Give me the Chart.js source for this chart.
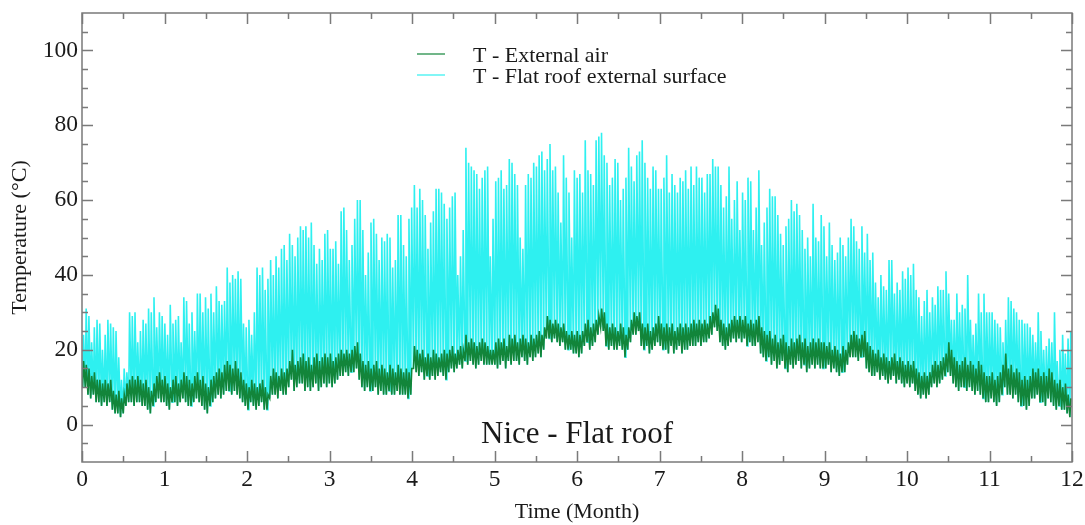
<!DOCTYPE html>
<html>
<head>
<meta charset="utf-8">
<title>Nice - Flat roof</title>
<script src="https://cdn.jsdelivr.net/npm/chart.js@4.4.1/dist/chart.umd.min.js"></script>
<style>
  html, body { margin: 0; padding: 0; background: #fff; }
  #roofChart { display: block; }
</style>
</head>
<body>
<canvas id="roofChart" width="1085" height="525"></canvas>
<script>
// Daily values over one year, one row per month (Jan..Dec)
const surfaceMax = [
    24, 31, 29, 22, 26, 28, 27, 20, 24, 28, 27, 26, 25, 18, 12, 15, 14, 30, 29, 30, 22, 25, 28, 27, 31, 30, 34, 26, 30, 29, 27,
    24, 32, 27, 28, 29, 22, 34, 33, 27, 30, 25, 35, 35, 30, 34, 31, 35, 30, 37, 33, 32, 33, 42, 38, 40, 39, 41, 39,
    27, 26, 28, 24, 30, 42, 40, 42, 36, 39, 44, 40, 45, 42, 47, 48, 44, 51, 48, 45, 50, 53, 52, 53, 50, 54, 48, 43, 47, 44, 51,
    52, 47, 47, 49, 43, 57, 58, 52, 44, 48, 55, 60, 60, 52, 40, 46, 54, 55, 51, 44, 50, 49, 51, 50, 42, 44, 56, 56, 48, 45,
    55, 58, 64, 58, 63, 60, 56, 47, 54, 57, 63, 63, 62, 59, 55, 58, 61, 62, 40, 45, 52, 74, 70, 69, 68, 67, 63, 66, 68, 69, 45,
    55, 65, 66, 68, 63, 64, 71, 70, 67, 64, 50, 47, 64, 67, 66, 70, 69, 72, 73, 68, 71, 75, 68, 69, 62, 54, 72, 66, 62, 50,
    68, 66, 67, 62, 76, 68, 67, 64, 76, 77, 78, 72, 70, 64, 66, 71, 70, 60, 63, 66, 74, 69, 65, 72, 73, 76, 70, 66, 63, 69, 68,
    63, 63, 66, 72, 62, 67, 64, 62, 66, 65, 68, 63, 69, 64, 69, 66, 66, 62, 67, 67, 71, 69, 69, 64, 58, 61, 69, 55, 60, 65, 52,
    62, 60, 66, 65, 52, 58, 68, 48, 54, 58, 63, 61, 61, 56, 51, 48, 53, 55, 60, 57, 59, 56, 52, 47, 50, 45, 59, 50, 49, 56,
    53, 45, 54, 48, 44, 46, 50, 48, 45, 50, 55, 53, 49, 47, 53, 46, 51, 44, 46, 38, 34, 40, 37, 36, 44, 44, 35, 38, 36, 41, 39,
    42, 40, 43, 36, 34, 29, 33, 36, 30, 34, 32, 37, 36, 36, 41, 35, 28, 28, 35, 30, 32, 31, 40, 28, 24, 27, 35, 30, 35, 30,
    30, 30, 28, 27, 26, 22, 28, 34, 33, 31, 30, 28, 28, 27, 27, 26, 24, 22, 30, 25, 20, 21, 23, 22, 30, 17, 20, 24, 19, 23, 25
];

const airMax = [
    17, 16, 15, 13, 14, 12, 12, 11, 12, 11, 12, 9, 8, 9, 7, 8, 11, 12, 13, 12, 13, 12, 11, 12, 10, 9, 11, 13, 14, 12, 13,
    11, 10, 12, 13, 11, 12, 14, 13, 12, 11, 13, 14, 12, 13, 11, 10, 12, 13, 14, 15, 14, 16, 17, 16, 15, 17, 15, 14,
    12, 11, 10, 12, 11, 10, 11, 12, 10, 8, 13, 15, 14, 13, 15, 14, 15, 17, 20, 16, 17, 18, 19, 17, 18, 16, 18, 19, 17, 18, 19,
    18, 19, 17, 18, 19, 20, 19, 20, 19, 20, 21, 22, 19, 17, 16, 17, 15, 16, 17, 15, 16, 15, 14, 16, 15, 14, 16, 15, 14, 15,
    14, 15, 21, 20, 19, 20, 18, 19, 18, 20, 19, 18, 19, 20, 19, 20, 21, 19, 20, 21, 20, 24, 22, 23, 22, 21, 22, 23, 22, 21, 20,
    20, 22, 23, 22, 23, 21, 24, 23, 24, 22, 23, 24, 23, 22, 24, 23, 24, 25, 24, 26, 29, 28, 27, 28, 27, 26, 27, 25, 24, 25,
    24, 25, 24, 25, 27, 28, 26, 27, 28, 29, 31, 30, 27, 26, 27, 26, 25, 27, 26, 24, 26, 28, 30, 29, 30, 27, 26, 27, 25, 26, 27,
    29, 27, 26, 27, 26, 27, 25, 26, 27, 26, 27, 26, 27, 28, 27, 28, 27, 28, 27, 29, 30, 32, 31, 28, 27, 26, 27, 28, 29, 28, 29,
    28, 29, 27, 28, 27, 28, 29, 26, 25, 24, 25, 23, 24, 22, 23, 24, 22, 21, 23, 22, 23, 24, 22, 23, 21, 22, 23, 22, 23, 22,
    22, 21, 22, 20, 21, 20, 19, 21, 20, 22, 24, 25, 24, 23, 24, 25, 22, 21, 20, 19, 20, 18, 19, 18, 17, 18, 19, 17, 18, 17, 16,
    17, 16, 17, 15, 14, 13, 14, 13, 14, 16, 17, 16, 17, 18, 19, 22, 20, 18, 17, 16, 17, 18, 16, 17, 16, 15, 17, 16, 14, 13,
    13, 14, 12, 13, 14, 16, 19, 15, 16, 14, 15, 14, 12, 13, 12, 13, 15, 14, 15, 13, 14, 13, 15, 14, 12, 11, 12, 10, 11, 8, 7
];

const airMin = [
    10, 10, 8, 7, 8, 6, 6, 5, 6, 5, 6, 4, 3, 3, 2, 3, 5, 6, 6, 5, 6, 6, 5, 5, 4, 3, 5, 6, 7, 6, 6,
    5, 4, 6, 6, 5, 6, 7, 6, 5, 5, 6, 7, 6, 5, 4, 3, 5, 6, 7, 8, 7, 8, 9, 9, 8, 9, 8, 7,
    6, 5, 4, 6, 5, 4, 5, 6, 4, 4, 7, 8, 8, 7, 9, 8, 8, 10, 12, 9, 10, 11, 11, 9, 10, 9, 10, 11, 9, 10, 11,
    10, 11, 10, 11, 12, 13, 13, 14, 13, 14, 14, 15, 12, 10, 9, 10, 9, 9, 10, 8, 9, 8, 8, 9, 8, 8, 9, 8, 8, 8,
    7, 8, 15, 14, 13, 14, 12, 13, 12, 13, 12, 13, 14, 13, 12, 14, 15, 14, 15, 16, 15, 17, 16, 17, 16, 15, 16, 17, 16, 16, 16,
    16, 16, 15, 16, 17, 15, 17, 16, 17, 17, 16, 18, 17, 16, 18, 17, 18, 19, 18, 20, 23, 23, 22, 23, 22, 21, 22, 20, 20, 20,
    19, 19, 18, 19, 21, 22, 20, 21, 22, 24, 26, 25, 21, 20, 21, 20, 20, 21, 20, 18, 20, 22, 24, 24, 25, 21, 20, 21, 19, 20, 21,
    22, 21, 20, 20, 19, 21, 19, 20, 21, 19, 20, 20, 21, 21, 21, 22, 21, 22, 22, 23, 24, 26, 25, 22, 21, 20, 21, 22, 23, 22, 23,
    22, 23, 21, 22, 21, 21, 22, 19, 18, 17, 18, 16, 17, 15, 16, 17, 15, 14, 16, 15, 16, 17, 15, 16, 14, 15, 16, 15, 16, 15,
    15, 15, 16, 14, 15, 14, 13, 14, 14, 16, 18, 18, 18, 17, 18, 18, 15, 14, 13, 13, 14, 12, 13, 12, 11, 12, 13, 11, 12, 11, 10,
    11, 10, 11, 9, 8, 7, 8, 7, 8, 10, 11, 10, 11, 12, 13, 14, 13, 11, 10, 9, 10, 10, 9, 10, 9, 8, 9, 8, 7, 6,
    6, 7, 6, 5, 6, 8, 10, 8, 8, 7, 8, 6, 5, 5, 4, 5, 7, 7, 8, 6, 6, 5, 7, 6, 5, 4, 5, 4, 4, 3, 2
];

const xTicks = [0, 1, 2, 3, 4, 5, 6, 7, 8, 9, 10, 11, 12];
const yTicks = [0, 20, 40, 60, 80, 100];
const seriesNames = ['T - External air', 'T - Flat roof external surface'];
const seriesColors = ['#12853a', '#2ef0f0'];
const caption = 'Nice - Flat roof';

const serif = "'Liberation Serif', 'Times New Roman', serif";
const axisGray = '#7a7a7a';
const textColor = '#1a1a1a';

// day index + hour of day -> position in months
function toMonth(day, hour) {
    return (day + hour / 24) * 12 / airMin.length;
}

// night low -> afternoon high for every day
const airPoints = [];
const roofPoints = [];
airMin.forEach((low, d) => {
    airPoints.push({ x: toMonth(d, 5), y: low }, { x: toMonth(d, 14), y: airMax[d] });
    roofPoints.push({ x: toMonth(d, 5), y: low }, { x: toMonth(d, 13), y: surfaceMax[d] });
});

// keep the plot box fixed: no extra room for overhanging tick labels
function noLabelPadding(scale) {
    scale.paddingTop = 0;
    scale.paddingBottom = 0;
    scale.paddingLeft = 0;
    scale.paddingRight = 0;
}

// frame plus inward major/minor ticks on all four sides
const frameTicks = {
    id: 'frameTicks',
    afterDraw(chart) {
        const { ctx, chartArea: a, scales: { x, y } } = chart;
        ctx.save();
        ctx.strokeStyle = axisGray;
        ctx.lineWidth = 1.5;
        ctx.strokeRect(a.left, a.top, a.right - a.left, a.bottom - a.top);
        ctx.beginPath();
        for (let m = x.min; m <= x.max; m += 0.5) {
            const px = Math.round(x.getPixelForValue(m)) + 0.5;
            const len = Number.isInteger(m) ? 11 : 6;
            ctx.moveTo(px, a.bottom); ctx.lineTo(px, a.bottom - len);
            ctx.moveTo(px, a.top); ctx.lineTo(px, a.top + len);
        }
        for (let t = y.min + 5; t < y.max; t += 5) {
            const py = Math.round(y.getPixelForValue(t)) + 0.5;
            const len = t % 20 === 0 ? 11 : 6;
            ctx.moveTo(a.left, py); ctx.lineTo(a.left + len, py);
            ctx.moveTo(a.right, py); ctx.lineTo(a.right - len, py);
        }
        ctx.stroke();
        ctx.restore();
    }
};

// legend inside the plot and the place caption
const insideText = {
    id: 'insideText',
    afterDraw(chart) {
        const { ctx, chartArea: a, scales: { y } } = chart;
        ctx.save();
        ctx.font = '22px ' + serif;
        ctx.fillStyle = textColor;
        ctx.textBaseline = 'alphabetic';
        seriesNames.forEach((name, i) => {
            const base = a.top + 49 + i * 21;
            ctx.strokeStyle = seriesColors[i];
            ctx.lineWidth = 1.2;
            ctx.beginPath();
            ctx.moveTo(a.left + 335, base - 8);
            ctx.lineTo(a.left + 363, base - 8);
            ctx.stroke();
            ctx.fillText(name, a.left + 391, base);
        });
        ctx.font = '31px ' + serif;
        ctx.textAlign = 'center';
        ctx.fillText(caption, (a.left + a.right) / 2, y.getPixelForValue(-5));
        ctx.restore();
    }
};

const roofChart = new Chart(document.getElementById('roofChart'), {
    type: 'line',
    data: {
        datasets: [{
            label: seriesNames[0],
            data: airPoints,
            borderColor: seriesColors[0],
            borderWidth: 1.6,
            pointRadius: 0,
            tension: 0
        }, {
            label: seriesNames[1],
            data: roofPoints,
            borderColor: seriesColors[1],
            borderWidth: 1.6,
            pointRadius: 0,
            tension: 0
        }]
    },
    options: {
        responsive: false,
        animation: false,
        parsing: false,
        layout: { padding: { top: 13, right: 13, left: 0, bottom: 0 } },
        plugins: {
            legend: { display: false },
            tooltip: { enabled: false }
        },
        scales: {
            x: {
                type: 'linear',
                min: 0,
                max: 12,
                grid: { display: false, drawTicks: false },
                border: { display: false },
                afterBuildTicks: scale => { scale.ticks = xTicks.map(v => ({ value: v })); },
                afterFit: scale => { scale.height = 63; noLabelPadding(scale); },
                ticks: {
                    padding: 4,
                    maxRotation: 0,
                    color: textColor,
                    font: { family: serif, size: 23.5 }
                },
                title: {
                    display: true,
                    text: 'Time (Month)',
                    color: textColor,
                    padding: { top: 0, bottom: 0 },
                    font: { family: serif, size: 22 }
                }
            },
            y: {
                min: -10,
                max: 110,
                grid: { display: false, drawTicks: false },
                border: { display: false },
                afterBuildTicks: scale => { scale.ticks = yTicks.map(v => ({ value: v })); },
                afterFit: scale => { scale.width = 82; noLabelPadding(scale); },
                ticks: {
                    padding: 4,
                    color: textColor,
                    font: { family: serif, size: 23.5 }
                },
                title: {
                    display: true,
                    text: 'Temperature (°C)',
                    color: textColor,
                    padding: { top: 7, bottom: 0 },
                    font: { family: serif, size: 22 }
                }
            }
        }
    },
    plugins: [frameTicks, insideText]
});
</script>
</body>
</html>
